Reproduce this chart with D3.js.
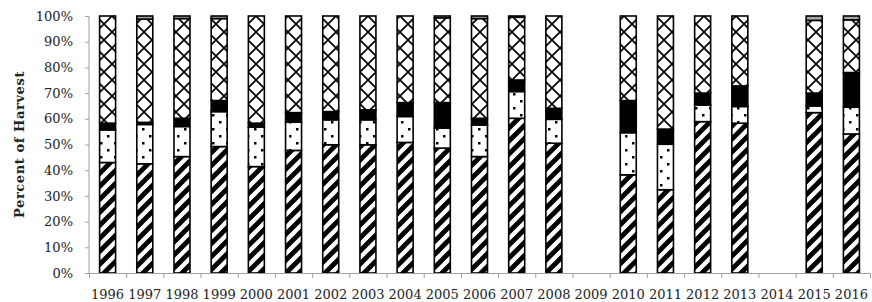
<!DOCTYPE html>
<html lang="en">
<head>
<meta charset="UTF-8" />
<script src="https://d3js.org/d3.v7.min.js"></script>
<style>
  body { margin: 0; background: #fff; }
  svg { display: block; }
  .tick text { font-family: "DejaVu Serif", serif; font-size: 13px; fill: #222; }
</style>
</head>
<body>
<svg id="chart"></svg>
<script>
// share of harvest per year, in percent (2009 and 2014 have no data)
const years = ["1996","1997","1998","1999","2000","2001","2002","2003","2004","2005","2006",
               "2007","2008","2009","2010","2011","2012","2013","2014","2015","2016"];
const diag   = [43.0,42.5,45.3,49.2,41.4,47.7,49.9,49.9,50.8,48.6,45.3,60.2,50.5,null,38.2,32.4,58.9,58.3,null,62.4,54.1];
const dotted = [12.7,15.3,11.7,13.6,15.4,11.0, 9.7, 9.7,10.1, 7.8,12.3,10.4, 9.3,null,16.4,17.7, 6.5, 6.5,null, 2.6,10.4];
const solid  = [ 2.6, 0.8, 3.2, 4.3, 1.5, 3.7, 3.2, 3.9, 5.4, 9.9, 2.6, 4.5, 4.3,null,12.5, 5.9, 4.6, 8.0,null, 5.0,13.5];
const cross  = [41.7,40.2,38.8,31.9,41.7,37.6,37.2,36.5,33.7,33.0,38.8,24.4,35.9,null,32.9,44.0,30.0,27.2,null,28.3,20.5];
const gray   = [ 0.0, 1.2, 1.0, 1.0, 0.0, 0.0, 0.0, 0.0, 0.0, 0.7, 1.0, 0.5, 0.0,null, 0.0, 0.0, 0.0, 0.0,null, 1.7, 1.5];
const yTicks = d3.range(0, 101, 10);

const keys = ["diag", "dotted", "solid", "cross", "gray"];
const rows = years.map((yr, i) => ({
  year: yr, diag: diag[i] || 0, dotted: dotted[i] || 0, solid: solid[i] || 0,
  cross: cross[i] || 0, gray: gray[i] || 0
}));

const W = 872, H = 302;
const plotLeft = 89, plotRight = 870, plotTop = 16, plotBottom = 273;

const svg = d3.select("#chart").attr("width", W).attr("height", H);

// fill patterns
const defs = svg.append("defs");
const pDiag = defs.append("pattern").attr("id", "p-diag")
  .attr("patternUnits", "userSpaceOnUse").attr("width", 13).attr("height", 13);
pDiag.append("rect").attr("width", 13).attr("height", 13).attr("fill", "#fff");
pDiag.append("path").attr("d", "M-3,16 L16,-3 M-3,3 L3,-3 M10,16 L16,10")
  .attr("stroke", "#000").attr("stroke-width", 4.8);

const pDot = defs.append("pattern").attr("id", "p-dot")
  .attr("patternUnits", "userSpaceOnUse").attr("width", 14).attr("height", 14);
pDot.append("rect").attr("width", 14).attr("height", 14).attr("fill", "#fff");
pDot.append("rect").attr("x", 2).attr("y", 2).attr("width", 2.5).attr("height", 2.5).attr("fill", "#000");
pDot.append("rect").attr("x", 9).attr("y", 9).attr("width", 2.5).attr("height", 2.5).attr("fill", "#000");

const pCross = defs.append("pattern").attr("id", "p-cross")
  .attr("patternUnits", "userSpaceOnUse").attr("width", 16).attr("height", 16);
pCross.append("rect").attr("width", 16).attr("height", 16).attr("fill", "#fff");
pCross.append("path").attr("d", "M0,0 L16,16 M16,0 L0,16")
  .attr("stroke", "#000").attr("stroke-width", 1.7);

const fills = { diag: "url(#p-diag)", dotted: "url(#p-dot)", solid: "#000", cross: "url(#p-cross)", gray: "#a6a6a6" };

const x = d3.scaleBand().domain(years).range([plotLeft, plotRight])
  .paddingInner(0.57).paddingOuter(0.285);
const y = d3.scaleLinear().domain([0, 100]).range([plotBottom, plotTop]);
// boundaries between categories, for the x tick marks
const xb = d3.scaleLinear().domain([0, years.length]).range([plotLeft, plotRight]);

const series = d3.stack().keys(keys)(rows);

svg.append("g").selectAll("g")
  .data(series)
  .join("g")
  .attr("fill", d => fills[d.key])
  .selectAll("rect")
  .data(d => d.filter(s => s[1] - s[0] > 0))
  .join("rect")
  .attr("x", d => x(d.data.year))
  .attr("width", x.bandwidth())
  .attr("y", d => y(d[1]))
  .attr("height", d => y(d[0]) - y(d[1]))
  .attr("stroke", "#000")
  .attr("stroke-width", 1.6);

// y axis
const yAxis = svg.append("g")
  .attr("transform", `translate(${plotLeft},0)`)
  .call(d3.axisLeft(y).tickValues(yTicks).tickFormat(d => d + "%").tickSize(4).tickPadding(12));
yAxis.selectAll("line, path").attr("stroke", "#a0a0a0");
yAxis.select(".domain").attr("d", `M0,${plotTop}V${plotBottom}`);

// x axis: ticks between bars, labels under bars
const xTicks = svg.append("g")
  .attr("transform", `translate(0,${plotBottom})`)
  .call(d3.axisBottom(xb).tickValues(d3.range(years.length + 1)).tickFormat("").tickSize(5).tickSizeOuter(0));
xTicks.selectAll("line, path").attr("stroke", "#a0a0a0");

const xLabels = svg.append("g")
  .attr("transform", `translate(0,${plotBottom})`)
  .call(d3.axisBottom(x).tickSize(0).tickPadding(17));
xLabels.select(".domain").remove();

svg.append("text")
  .attr("transform", `translate(24,${(plotTop + plotBottom) / 2}) rotate(-90)`)
  .attr("text-anchor", "middle")
  .style("font-family", "'DejaVu Serif', serif")
  .style("font-size", "13px")
  .style("font-weight", "bold")
  .style("letter-spacing", "0.6px")
  .attr("fill", "#222")
  .text("Percent of Harvest");
</script>
</body>
</html>
